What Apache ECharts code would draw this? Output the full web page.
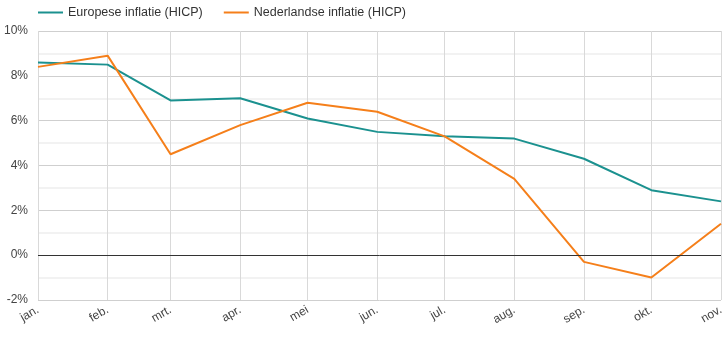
<!DOCTYPE html>
<html>
<head>
<meta charset="utf-8">
<script src="https://cdn.jsdelivr.net/npm/echarts@6/dist/echarts.min.js"></script>
<style>
  html, body { margin: 0; padding: 0; background: #fff; }
  #chart { width: 727px; height: 337px; }
</style>
</head>
<body>
<div id="chart"></div>
<script>
// Inflatie 2023, HICP, jaar-op-jaar (%)
const dates = ['2023-01-01', '2023-02-01', '2023-03-01', '2023-04-01', '2023-05-01', '2023-06-01',
               '2023-07-01', '2023-08-01', '2023-09-01', '2023-10-01', '2023-11-01'];
const monthLabels = ['jan.', 'feb.', 'mrt.', 'apr.', 'mei', 'jun.', 'jul.', 'aug.', 'sep.', 'okt.', 'nov.', 'dec.'];
const europe = [8.6, 8.5, 6.9, 7.0, 6.1, 5.5, 5.3, 5.2, 4.3, 2.9, 2.4];
const netherlands = [8.4, 8.9, 4.5, 5.8, 6.8, 6.4, 5.3, 3.4, -0.3, -1.0, 1.4];
const seriesNames = ['Europese inflatie (HICP)', 'Nederlandse inflatie (HICP)'];
const yTicks = { min: -2, max: 10, step: 2 };

const pair = (vals) => dates.map((d, i) => [d, vals[i]]);
const DAY = 86400000;

const chart = echarts.init(document.getElementById('chart'), null, { renderer: 'canvas' });
chart.setOption({
  animation: false,
  textStyle: { fontFamily: 'Liberation Sans, Arial, sans-serif' },
  legend: {
    left: 33,
    top: 1,
    itemWidth: 25,
    itemHeight: 2,
    itemGap: 21,
    icon: 'rect',
    textStyle: { fontSize: 12.5, color: '#333' },
    data: seriesNames
  },
  grid: { left: 38, right: 6, top: 31, bottom: 37, containLabel: false },
  xAxis: {
    type: 'time',
    min: dates[0],
    max: dates[dates.length - 1],
    splitNumber: 11,
    minInterval: 28 * DAY,
    maxInterval: 31 * DAY,
    axisLine: { show: false },
    axisTick: { show: false },
    splitLine: { show: true, lineStyle: { color: '#d9d9d9', width: 1 } },
    axisLabel: {
      rotate: 30,
      fontSize: 12,
      color: '#444',
      margin: 9,
      showMinLabel: true,
      showMaxLabel: true,
      hideOverlap: false,
      formatter: (v) => monthLabels[new Date(v).getMonth()]
    }
  },
  yAxis: {
    type: 'value',
    min: yTicks.min,
    max: yTicks.max,
    interval: yTicks.step,
    axisLine: { show: false },
    axisTick: { show: false },
    axisLabel: { fontSize: 12, color: '#444', margin: 10, formatter: '{value}%' },
    splitLine: { lineStyle: { color: '#cfcfcf', width: 1 } },
    minorTick: { show: false, splitNumber: 2 },
    minorSplitLine: { show: true, lineStyle: { color: '#f2f2f2', width: 2 } }
  },
  series: [
    {
      name: seriesNames[0],
      type: 'line',
      data: pair(europe),
      showSymbol: false,
      symbol: 'none',
      color: '#1b918f',
      lineStyle: { width: 2 },
      z: 3,
      markLine: {
        silent: true,
        symbol: 'none',
        label: { show: false },
        lineStyle: { color: '#333', width: 1, type: 'solid' },
        data: [{ yAxis: 0 }]
      }
    },
    {
      name: seriesNames[1],
      type: 'line',
      data: pair(netherlands),
      showSymbol: false,
      symbol: 'none',
      color: '#f57f1a',
      lineStyle: { width: 2 },
      z: 4
    }
  ]
});
</script>
</body>
</html>
